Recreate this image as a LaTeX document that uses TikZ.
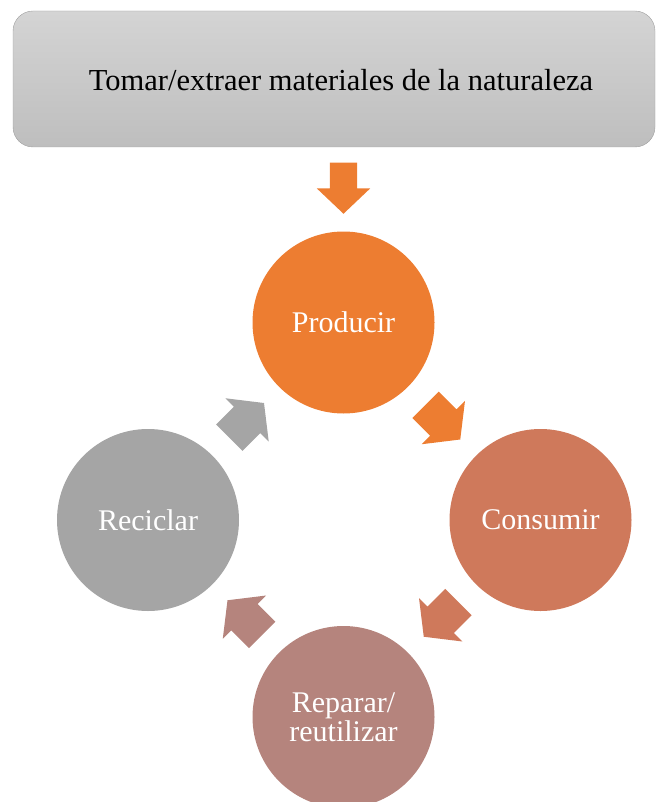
\documentclass[tikz,border=0pt]{standalone}
\usepackage{fontspec}
\setmainfont{Liberation Serif}
\usetikzlibrary{shapes.arrows,calc}

\definecolor{prodorange}{RGB}{237,125,49}
\definecolor{consred}{RGB}{207,121,91}
\definecolor{reparrose}{RGB}{181,132,125}
\definecolor{recicgray}{RGB}{165,165,165}
\definecolor{boxtop}{RGB}{212,212,212}
\definecolor{boxbot}{RGB}{190,190,190}
\definecolor{boxline}{RGB}{160,160,160}

\tikzset{
	stage/.style={circle, minimum size=182pt, inner sep=0pt, text=white, align=center, font=\fontsize{30}{29}\selectfont},
	cyclearrow/.style={single arrow, draw=none, inner xsep=0pt, inner ysep=18.5pt, minimum height=49pt, single arrow head extend=12pt, single arrow tip angle=104},
}

\begin{document}
\begin{tikzpicture}[x=1pt,y=1pt]
		\useasboundingbox (0,0) rectangle (656,-802);
		\clip (0,0) rectangle (656,-802);

		% Source: nature
		\node[draw=boxline, top color=boxtop, bottom color=boxbot, rounded corners=20pt, minimum width=642pt, minimum height=136pt] (source) at (334,-79) {};
		\node[font=\fontsize{30.5}{30}\selectfont] (sourcetext) at (341,-80) {Tomar/extraer materiales de la naturaleza};

		% Stage 1: Producir
		\node[stage, fill=prodorange] (prod) at (343.5,-322.5) {Producir};
		% Stage 2: Consumir
		\node[stage, fill=consred] (cons) at (540.5,-520) {Consumir};
		% Stage 3: Reparar/reutilizar
		\node[stage, fill=reparrose] (repar) at (343.5,-717) {Reparar/\\reutilizar};
		% Stage 4: Reciclar
		\node[stage, fill=recicgray] (recic) at (148,-520) {Reciclar};

		% Arrows
		\node[cyclearrow, fill=prodorange, rotate=-90, xshift=-7.5pt, inner ysep=13.5pt, minimum height=51pt, single arrow head extend=13pt, single arrow tip angle=93] (feed) at ($(prod.north)!0.5!(prod.north |- source.south)$) {};
		\node[cyclearrow, fill=prodorange, rotate=-45, xshift=-6pt] (a1) at ($(prod)!0.5!(cons)$) {};
		\node[cyclearrow, fill=consred, rotate=-135, xshift=-6pt] (a2) at ($(cons)!0.5!(repar)$) {};
		\node[cyclearrow, fill=reparrose, rotate=135, xshift=-6pt] (a3) at ($(repar)!0.5!(recic)$) {};
		\node[cyclearrow, fill=recicgray, rotate=45, xshift=-6pt] (a4) at ($(recic)!0.5!(prod)$) {};
	\end{tikzpicture}
\end{document}
